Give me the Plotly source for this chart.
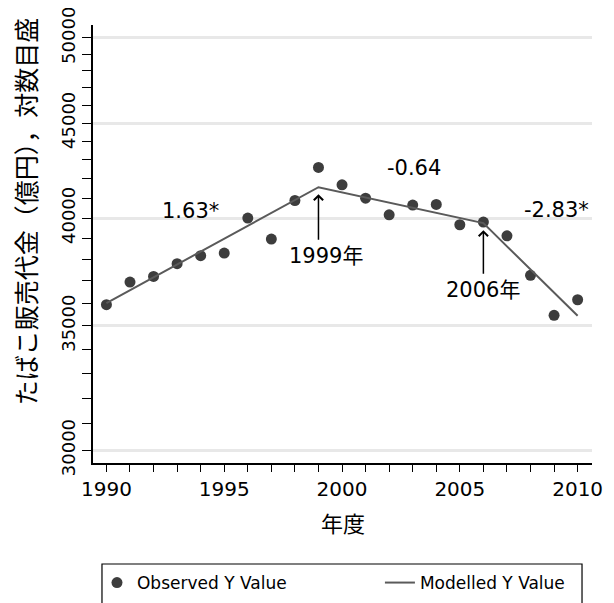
import math
import plotly.graph_objects as go

# ---- data ----
years = list(range(1990, 2011))
observed = [35930, 36950, 37210, 37800, 38180, 38300, 40000, 38970, 40880, 42590,
            41680, 41000, 40160, 40650, 40680, 39670, 39800, 39130, 37260, 35460, 36150]
model_years = [1990, 1999, 2006, 2010]
model_vals = [36000, 41560, 39750, 35440]

apc_labels = ["1.63*", "-0.64", "-2.83*"]
apc_x = [1993.55, 2003.05, 2009.1]
apc_y = [40363, 42570, 40413]

joint_years = [1999, 2006]
joint_labels = ["1999年", "2006年"]
joint_text_x = [1999.31, 2005.98]
joint_text_y = [38177, 36604]

y_major = [30000, 35000, 40000, 45000, 50000]
y_minor = [v for v in range(30000, 51000, 1000) if v % 5000 != 0]
x_ticks = years
x_ticktext = [str(y) if y % 5 == 0 else "" for y in years]

LAT = "DejaVu Sans, Noto Sans CJK JP"
CJK = "Noto Sans CJK JP, DejaVu Sans"

fig = go.Figure()
fig.add_trace(go.Scatter(
    x=years, y=observed, mode="markers", name="Observed Y Value",
    marker=dict(color="#3d3d3d", size=11), legend="legend",
))
fig.add_trace(go.Scatter(
    x=model_years, y=model_vals, mode="lines", name="Modelled Y Value",
    line=dict(color="#5a5a5a", width=2), legend="legend2",
))

annotations = []
for t, x, y in zip(apc_labels, apc_x, apc_y):
    annotations.append(dict(x=x, y=math.log10(y), xref="x", yref="y", text=t,
                            showarrow=False, font=dict(family=LAT, size=21, color="black")))
for t, x, y in zip(joint_labels, joint_text_x, joint_text_y):
    annotations.append(dict(x=x, y=math.log10(y), xref="x", yref="y", text=t,
                            showarrow=False, font=dict(family=LAT, size=21, color="black")))
for jy, ay in zip(joint_years, [54, 52]):
    mv = model_vals[model_years.index(jy)]
    annotations.append(dict(x=jy, y=math.log10(mv), xref="x", yref="y", text="",
                            showarrow=True, ax=0, ay=ay, arrowhead=4, arrowsize=1.2,
                            arrowwidth=1.5, arrowcolor="black", standoff=7))
annotations.append(dict(x=-0.136, y=0.575, xref="paper", yref="paper",
                        xanchor="center", yanchor="middle",
                        text="たばこ販売代金（億円），対数目盛", textangle=-90,
                        showarrow=False, font=dict(family=CJK, size=25, color="black")))
annotations.append(dict(x=0.5, y=-0.1347, xref="paper", yref="paper", text="年度",
                        xanchor="center", yanchor="middle",
                        showarrow=False, font=dict(family=CJK, size=22, color="black")))

legend_common = dict(orientation="h", xanchor="left", yanchor="middle", y=-0.274,
                     borderwidth=0, bgcolor="rgba(0,0,0,0)",
                     font=dict(family=LAT, size=17, color="black"))

fig.update_layout(
    width=606, height=595,
    margin=dict(l=85, r=22, t=17, b=140, autoexpand=False),
    plot_bgcolor="white", paper_bgcolor="white",
    font=dict(family=LAT, color="black"),
    annotations=annotations,
    showlegend=True,
    legend=dict(x=0.008, **legend_common),
    legend2=dict(x=0.575, **legend_common),
    shapes=[dict(type="rect", xref="paper", yref="paper", x0=0.018, x1=0.98,
                 y0=-0.2306, y1=-0.34, line=dict(color="black", width=1.2),
                 fillcolor="rgba(0,0,0,0)", layer="below")],
    xaxis=dict(range=[1989.43, 2010.61], tickmode="array", tickvals=x_ticks,
               ticktext=x_ticktext, ticks="outside", ticklen=7, tickcolor="black",
               showline=True, linecolor="black", linewidth=1.5, showgrid=False,
               zeroline=False, tickfont=dict(family=LAT, size=20),
               ticklabeloverflow="allow"),
    yaxis=dict(type="log", range=[math.log10(29530), math.log10(50810)],
               tickmode="array", tickvals=y_major, ticktext=[str(v) for v in y_major],
               tickangle=-90, ticks="outside", ticklen=9, tickcolor="black",
               showline=True, linecolor="black", linewidth=1.5,
               showgrid=True, gridcolor="#e8e8e8", gridwidth=3, zeroline=False,
               tickfont=dict(family=LAT, size=18), ticklabeloverflow="allow",
               minor=dict(tickmode="array", tickvals=y_minor, ticks="outside",
                          ticklen=9, tickcolor="black", showgrid=False)),
)

fig.write_html("out.html")
